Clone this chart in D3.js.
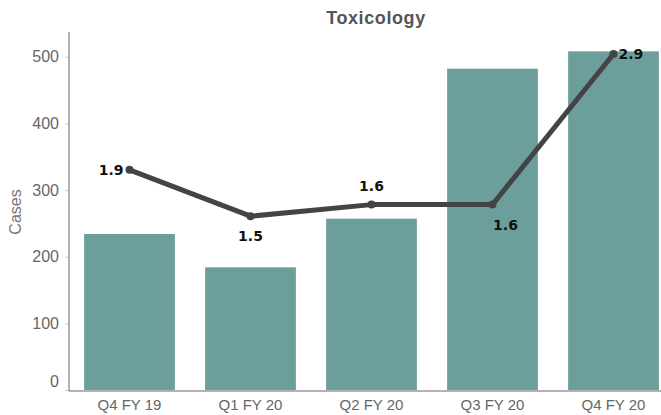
<!DOCTYPE html>
<html><head><meta charset="utf-8">
<script src="https://cdn.jsdelivr.net/npm/d3@7"></script>
<style>
body{margin:0;background:#fff;}
svg{display:block;}
</style></head>
<body>
<svg id="c" width="661" height="415"></svg>
<script>
const categories = ["Q4 FY 19","Q1 FY 20","Q2 FY 20","Q3 FY 20","Q4 FY 20"];
const cases = [234, 184, 257, 482, 508];
const ratio = [1.9, 1.5, 1.6, 1.6, 2.9];
const yTicks = [0,100,200,300,400,500];

const svg = d3.select("#c");
const x = d3.scaleBand().domain(categories).range([69, 674]).paddingInner(0.25).paddingOuter(0.125);
const y = d3.scaleLinear().domain([0, 500]).range([390, 56.7]);
const y2 = d3.scaleLinear().domain([0, 2.9]).range([390, 54]);

// title
svg.append("text").attr("x", 376).attr("y", 24).attr("text-anchor","middle")
  .attr("font-family","Liberation Sans, Arial, sans-serif").attr("font-weight","bold")
  .attr("font-size",18).attr("letter-spacing","0.6").attr("fill","#555").text("Toxicology");

// y axis label
svg.append("text").attr("transform","translate(21,212) rotate(-90)").attr("text-anchor","middle")
  .attr("font-family","Liberation Sans, Arial, sans-serif").attr("font-size",16).attr("fill","#777").text("Cases");

// bars
svg.append("g").selectAll("rect").data(cases).join("rect")
  .attr("x",(d,i)=>x(categories[i])).attr("width",x.bandwidth())
  .attr("y",d=>y(d)).attr("height",d=>y(0)-y(d)).attr("fill","#6c9e9b");

// y axis
const ya = svg.append("g").attr("transform","translate(69,0)")
  .call(d3.axisLeft(y).tickValues(yTicks).tickSize(4).tickPadding(6));
ya.select(".domain").remove();
ya.selectAll(".tick line").attr("stroke","#ccc");
ya.selectAll(".tick text").attr("font-family","Liberation Sans, Arial, sans-serif").attr("font-size",16).attr("fill","#666");
ya.selectAll(".tick").filter(d=>d===0).select("text").attr("dy","-0.25em");
svg.append("line").attr("x1",69).attr("x2",69).attr("y1",32).attr("y2",391).attr("stroke","#999").attr("stroke-width",1.5);

// x axis
const xa = svg.append("g").attr("transform","translate(0,391)")
  .call(d3.axisBottom(x).tickSize(0).tickPadding(8));
xa.select(".domain").attr("stroke","#999").attr("stroke-width",1.5).attr("d","M69,0H661");
xa.selectAll(".tick text").attr("font-family","Liberation Sans, Arial, sans-serif").attr("font-size",15).attr("fill","#666");

// line
const pts = ratio.map((v,i)=>[x(categories[i])+x.bandwidth()/2, y2(v)]);
svg.append("path").datum(pts).attr("d", d3.line()).attr("fill","none")
  .attr("stroke","#444").attr("stroke-width",5).attr("stroke-linejoin","round").attr("stroke-linecap","round");
svg.append("g").selectAll("circle").data(pts).join("circle")
  .attr("cx",d=>d[0]).attr("cy",d=>d[1]).attr("r",4).attr("fill","#444");

// labels
const offs = [[-6,5,"end"],[0,25,"middle"],[0,-14,"middle"],[13,25,"middle"],[5,5,"start"]];
svg.append("g").selectAll("text").data(ratio).join("text")
  .attr("x",(d,i)=>pts[i][0]+offs[i][0]).attr("y",(d,i)=>pts[i][1]+offs[i][1])
  .attr("text-anchor",(d,i)=>offs[i][2])
  .attr("font-family","DejaVu Sans, Verdana, sans-serif").attr("font-weight","bold").attr("font-size",14)
  .attr("fill","#111").text(d=>d.toFixed(1));
</script>
</body></html>
